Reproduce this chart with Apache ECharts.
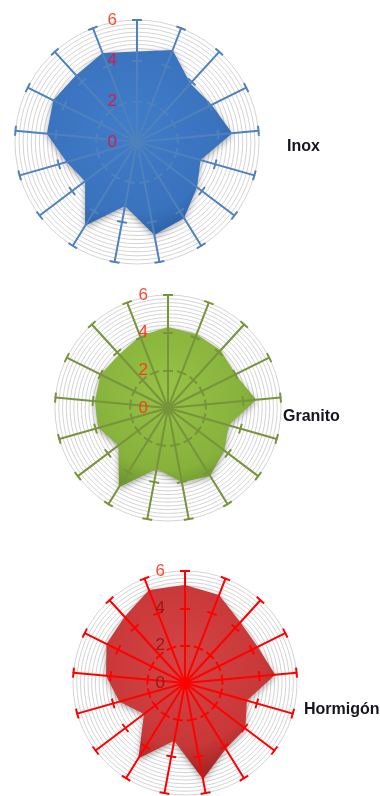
<!DOCTYPE html>
<html>
<head>
<meta charset="utf-8">
<script src="https://cdn.jsdelivr.net/npm/echarts@6/dist/echarts.min.js"></script>
<style>
  html, body { margin: 0; padding: 0; background: #ffffff; }
  #chart { width: 380px; height: 796px; }
</style>
</head>
<body>
<div id="chart"></div>
<script>
// Seventeen evaluation criteria, one spoke each, listed clockwise from the top (names are not drawn).
const categories = ['C1', 'C2', 'C3', 'C4', 'C5', 'C6', 'C7', 'C8', 'C9',
                    'C10', 'C11', 'C12', 'C13', 'C14', 'C15', 'C16', 'C17'];

// Value scale labels printed on the vertical spoke.
const scaleTicks = [0, 2, 4, 6];

// Scores per material, clockwise from the top spoke.
const inox     = [4.45, 4.85, 3.9, 4.1, 4.7, 3.25, 3.7, 4.4, 4.65, 3.2, 4.85, 3.2, 3.6, 4.45, 4.6, 4.45, 4.7];
const granito  = [4.3, 4.2, 4.15, 4.0, 4.7, 3.35, 3.75, 4.25, 4.0, 3.3, 4.95, 3.3, 3.85, 3.9, 4.0, 3.85, 4.1];
const hormigon = [5.25, 5.05, 4.4, 4.35, 4.85, 3.45, 4.05, 4.15, 5.25, 3.15, 4.75, 2.75, 3.65, 4.25, 4.7, 4.8, 5.35];

const materials = ['Inox', 'Granito', 'Hormigón'];

const scaleMax = scaleTicks[scaleTicks.length - 1];
const scaleSplits = scaleTicks.length - 1;

// ECharts lays radar indicators out counter-clockwise; reorder so the
// first entry stays on top and the rest run clockwise.
function clockwise(arr) {
  return [arr[0]].concat(arr.slice(1).reverse());
}

// Layout and colours of the three stacked radar panels.
const panels = [
  { name: materials[0], data: inox, center: [137, 142], radius: 122,
    axis: '#4f81bd', fill: ['#417dca', '#3972bd', '#2b5ea2'], inner: '#d41f44', title: [282, 134] },
  { name: materials[1], data: granito, center: [168, 408], radius: 113,
    axis: '#77933c', fill: ['#98c246', '#86b23c', '#6b942c'], inner: '#ff3a1c', title: [278, 404] },
  { name: materials[2], data: hormigon, center: [185, 683], radius: 112,
    axis: '#ff0000', fill: ['#d44444', '#c83838', '#a82626'], inner: '#9e1414', title: [299, 697] }
];

function indicators(withLabel) {
  return clockwise(categories).map((n, i) => {
    const ind = { name: n, min: 0, max: scaleMax };
    if (withLabel && i === 0) ind.axisLabel = { show: true };
    return ind;
  });
}

const radars = [];
const series = [];
const titles = [];

panels.forEach((p, k) => {
  const base = { center: p.center, radius: p.radius, startAngle: 90, shape: 'circle',
                 axisName: { show: false }, splitArea: { show: false } };
  // fine concentric grid rings
  radars.push(Object.assign({}, base, {
    splitNumber: 30, indicator: indicators(false), z: 0,
    axisLine: { show: false },
    axisTick: { show: false },
    axisLabel: { show: false },
    splitLine: { lineStyle: { color: '#d4d4d4', width: 1 } }
  }));
  // spokes, one half of the tick bars, scale labels
  radars.push(Object.assign({}, base, {
    splitNumber: scaleSplits, indicator: indicators(true), z: 5,
    axisLine: { show: true, lineStyle: { color: p.axis, width: 2 } },
    axisTick: { show: true, length: 5, lineStyle: { color: p.axis, width: 2 } },
    axisLabel: {
      show: false, fontSize: 17, fontFamily: 'Liberation Sans', margin: 20,
      // the outermost label sits on white, the others on the filled area
      color: (v) => (Number(v) === scaleMax ? '#ff4a2e' : p.inner)
    },
    splitLine: { show: false }
  }));
  // other half of the tick bars
  radars.push(Object.assign({}, base, {
    splitNumber: scaleSplits, indicator: indicators(false), z: 5,
    axisLine: { show: false },
    axisTick: { show: true, length: -5, lineStyle: { color: p.axis, width: 2 } },
    axisLabel: { show: false },
    splitLine: { show: false }
  }));

  series.push({
    type: 'radar',
    name: p.name,
    radarIndex: k * 3,
    symbol: 'none',
    z: 2,
    lineStyle: { width: 0 },
    areaStyle: {
      opacity: 1,
      color: {
        type: 'radial', x: 0.45, y: 0.4, r: 0.65,
        colorStops: [
          { offset: 0, color: p.fill[0] },
          { offset: 0.75, color: p.fill[1] },
          { offset: 1, color: p.fill[2] }
        ]
      },
      shadowBlur: 6,
      shadowColor: 'rgba(0,0,0,0.35)',
      shadowOffsetY: 2
    },
    data: [{ name: p.name, value: clockwise(p.data) }]
  });

  titles.push({
    text: p.name, left: p.title[0], top: p.title[1],
    textStyle: { fontFamily: 'Liberation Sans', fontSize: 16,
                 fontWeight: 'bold', color: '#14141e' }
  });
});

const chart = echarts.init(document.getElementById('chart'), null, { renderer: 'canvas' });
chart.setOption({
  animation: false,
  backgroundColor: '#ffffff',
  title: titles,
  radar: radars,
  series: series
});
</script>
</body>
</html>
